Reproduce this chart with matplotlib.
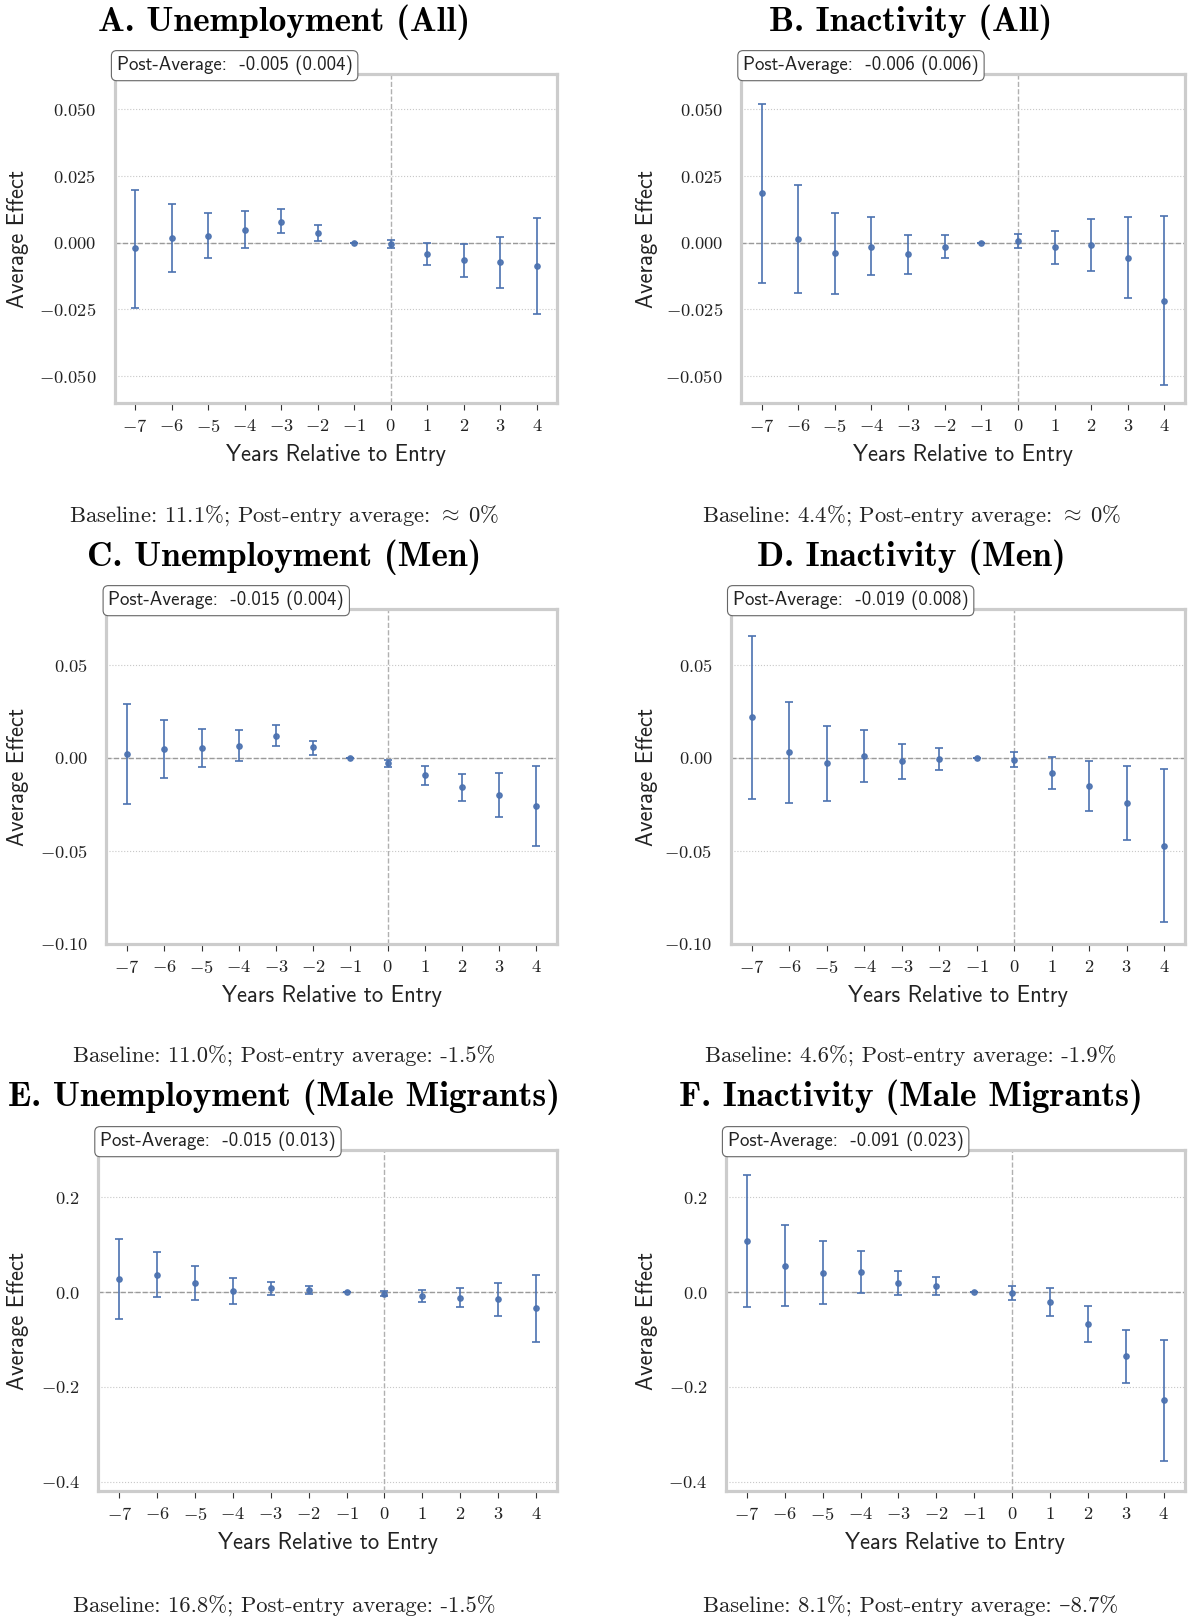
import numpy as np
import matplotlib
matplotlib.use("Agg")
import matplotlib.pyplot as plt
import matplotlib.transforms as mtransforms
from matplotlib.ticker import FixedLocator

# ---------------- data ----------------
years = [-7, -6, -5, -4, -3, -2, -1, 0, 1, 2, 3, 4]

A_est = [-0.0022, 0.0016, 0.0026, 0.0047, 0.0078, 0.0035, 0.0, -0.0005, -0.0042, -0.0066, -0.0073, -0.0088]
A_lo = [-0.0243, -0.0112, -0.0058, -0.0021, 0.0034, 0.0004, 0.0, -0.0021, -0.0083, -0.0128, -0.0169, -0.0269]
A_hi = [0.0198, 0.0144, 0.0112, 0.0117, 0.0124, 0.0065, 0.0, 0.0010, -0.0001, -0.0005, 0.0022, 0.0092]

B_est = [0.0184, 0.0014, -0.0041, -0.0015, -0.0044, -0.0015, 0.0, 0.0006, -0.0017, -0.0010, -0.0057, -0.0218]
B_lo = [-0.0152, -0.0188, -0.0193, -0.0123, -0.0116, -0.0057, 0.0, -0.0021, -0.0080, -0.0106, -0.0209, -0.0534]
B_hi = [0.0519, 0.0216, 0.0112, 0.0095, 0.0029, 0.0029, 0.0, 0.0032, 0.0044, 0.0087, 0.0095, 0.0100]

C_est = [0.0023, 0.0047, 0.0052, 0.0066, 0.0118, 0.0056, 0.0, -0.0030, -0.0093, -0.0158, -0.0201, -0.0258]
C_lo = [-0.0246, -0.0106, -0.0050, -0.0016, 0.0063, 0.0018, 0.0, -0.0050, -0.0143, -0.0229, -0.0317, -0.0475]
C_hi = [0.0292, 0.0201, 0.0154, 0.0149, 0.0176, 0.0093, 0.0, -0.0013, -0.0045, -0.0086, -0.0082, -0.0043]

D_est = [0.0219, 0.0029, -0.0030, 0.0009, -0.0018, -0.0005, 0.0, -0.0009, -0.0081, -0.0151, -0.0242, -0.0471]
D_lo = [-0.0219, -0.0244, -0.0229, -0.0131, -0.0111, -0.0063, 0.0, -0.0050, -0.0165, -0.0283, -0.0439, -0.0880]
D_hi = [0.0656, 0.0301, 0.0170, 0.0149, 0.0077, 0.0052, 0.0, 0.0030, 0.0004, -0.0016, -0.0045, -0.0061]

E_est = [0.0267, 0.0361, 0.0188, 0.0022, 0.0079, 0.0036, 0.0, -0.0036, -0.0079, -0.0116, -0.0152, -0.0339]
E_lo = [-0.0570, -0.0108, -0.0173, -0.0253, -0.0065, -0.0051, 0.0, -0.0087, -0.0202, -0.0310, -0.0505, -0.1047]
E_hi = [0.1112, 0.0838, 0.0549, 0.0296, 0.0209, 0.0130, 0.0, 0.0014, 0.0036, 0.0079, 0.0188, 0.0361]

F_est = [0.1076, 0.0556, 0.0412, 0.0419, 0.0188, 0.0137, 0.0, -0.0014, -0.0217, -0.0664, -0.1357, -0.2282]
F_lo = [-0.0325, -0.0303, -0.0245, -0.0029, -0.0072, -0.0058, 0.0, -0.0159, -0.0505, -0.1047, -0.1921, -0.3560]
F_hi = [0.2477, 0.1408, 0.1069, 0.0866, 0.0448, 0.0325, 0.0, 0.0137, 0.0087, -0.0289, -0.0801, -0.1004]

titles = ["A. Unemployment (All)", "B. Inactivity (All)",
          "C. Unemployment (Men)", "D. Inactivity (Men)",
          "E. Unemployment (Male Migrants)", "F. Inactivity (Male Migrants)"]
post_labels = ["Post-Average:  -0.005 (0.004)", "Post-Average:  -0.006 (0.006)",
               "Post-Average:  -0.015 (0.004)", "Post-Average:  -0.019 (0.008)",
               "Post-Average:  -0.015 (0.013)", "Post-Average:  -0.091 (0.023)"]
notes = ["Baseline: 11.1%; Post-entry average: $\\approx\\;$0%",
         "Baseline: 4.4%; Post-entry average: $\\approx\\;$0%",
         "Baseline: 11.0%; Post-entry average: -1.5%",
         "Baseline: 4.6%; Post-entry average: -1.9%",
         "Baseline: 16.8%; Post-entry average: -1.5%",
         "Baseline: 8.1%; Post-entry average: \u20138.7%"]
yticks_all = [-0.05, -0.025, 0.0, 0.025, 0.05]
yticks_men = [-0.10, -0.05, 0.0, 0.05]
yticks_mig = [-0.4, -0.2, 0.0, 0.2]

# ---------------- style ----------------
plt.rcParams["font.family"] = ["cmr10", "DejaVu Serif"]
plt.rcParams["mathtext.fontset"] = "cm"
plt.rcParams["axes.formatter.use_mathtext"] = True

W, H = 1188, 1618
fig = plt.figure(figsize=(W / 100, H / 100), dpi=100)
BLUE = "#4C72B0"

def add_ax(l, r, t, b):
    return fig.add_axes([l / W, 1 - b / H, (r - l) / W, (b - t) / H])

panels = [
    (A_est, A_lo, A_hi, yticks_all, (-0.060, 0.063), (114.6, 557.3, 74, 403)),
    (B_est, B_lo, B_hi, yticks_all, (-0.060, 0.063), (741.0, 1185.0, 74, 403)),
    (C_est, C_lo, C_hi, yticks_men, (-0.100, 0.080), (106.3, 557.3, 609, 944)),
    (D_est, D_lo, D_hi, yticks_men, (-0.100, 0.080), (730.7, 1185.0, 609, 944)),
    (E_est, E_lo, E_hi, yticks_mig, (-0.420, 0.300), (98.0, 557.3, 1150, 1491)),
    (F_est, F_lo, F_hi, yticks_mig, (-0.420, 0.300), (725.6, 1185.0, 1150, 1491)),
]
title_base = [31, 31, 566, 566, 1106, 1106]
note_base = [522, 522, 1063, 1063, 1613, 1613]
col_center = [284, 911]
ylab_x = [18, 647]

for i, (est, lo, hi, yt, ylim, box) in enumerate(panels):
    l, r, t, b = box
    ax = add_ax(l, r, t, b)
    est_a = np.array(est)
    err = [est_a - np.array(lo), np.array(hi) - est_a]
    ax.errorbar(years, est, yerr=err, fmt="o", color=BLUE, ms=3.8,
                elinewidth=1.3, capsize=3, capthick=1.3, alpha=0.92, zorder=4)
    ax.axhline(0, color="#9a9a9a", ls="--", lw=1.0, zorder=2)
    ax.axvline(0, color="#b0b0b0", ls="--", lw=1.0, zorder=2)
    ax.set_xlim(-7.56, 4.56)
    ax.set_ylim(*ylim)
    ax.xaxis.set_major_locator(FixedLocator(years))
    ax.yaxis.set_major_locator(FixedLocator(yt))
    ax.grid(axis="y", ls=":", color="#c8c8c8", lw=0.8, zorder=1)
    ax.set_axisbelow(True)
    for s in ax.spines.values():
        s.set_color("#cccccc")
        s.set_linewidth(2.3)
    ax.tick_params(axis="x", length=5, width=0.8, color="#333333", pad=6,
                   labelsize=13.3, labelcolor="#222222")
    ax.tick_params(axis="y", length=0, pad=13, labelsize=13.3, labelcolor="#222222")

    ax.set_xlabel("Years Relative to Entry", fontfamily="cmss10", fontsize=16.3,
                  color="#222222")
    ax.xaxis.label.set_va("center")
    ax.xaxis.set_label_coords(0.5, -52 / (b - t))
    ax.set_ylabel("Average Effect", fontfamily="cmss10", fontsize=16.3, color="#222222")
    ax.yaxis.label.set_va("center")
    tr = mtransforms.blended_transform_factory(fig.transFigure, ax.transAxes)
    ax.yaxis.set_label_coords(ylab_x[i % 2] / W, 0.5, transform=tr)

    ax.annotate(post_labels[i], xy=(0, 1), xycoords="axes fraction",
                xytext=(1.5, 6), textcoords="offset points", ha="left", va="center",
                fontfamily="cmss10", fontsize=13.6, color="#222222",
                bbox=dict(boxstyle="round,pad=0.28", fc="white", ec="#666666", lw=0.8),
                zorder=10, annotation_clip=False)

    cx = col_center[i % 2]
    fig.text(cx / W, 1 - title_base[i] / H, titles[i], ha="center", va="baseline",
             fontfamily="cmb10", fontsize=25.5)
    fig.text(cx / W, 1 - note_base[i] / H, notes[i], ha="center", va="baseline",
             fontfamily=["cmr10", "DejaVu Serif"], fontsize=16.3, color="#222222")

fig.savefig("out.png", dpi=100)
